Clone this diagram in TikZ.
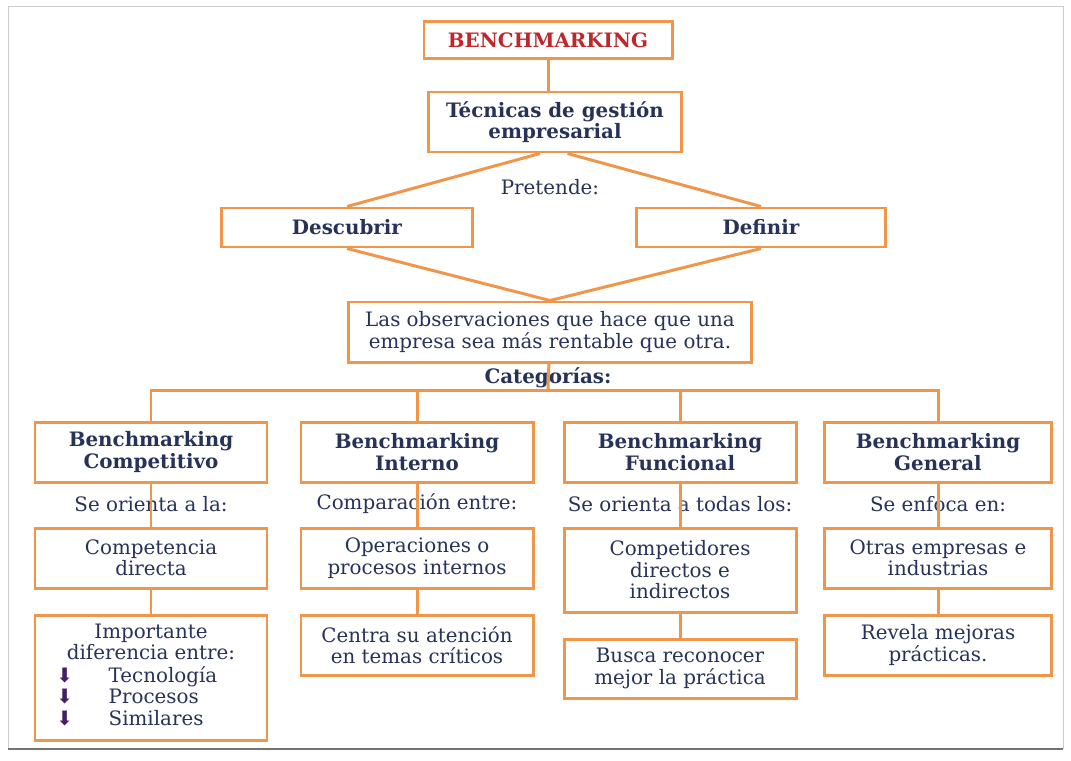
\documentclass[tikz,border=0pt]{standalone}
\usepackage{fontspec}
\setmainfont{DejaVu Serif}
\newfontfamily\flechas{DejaVu Sans}
\usepackage{tikz}
\usetikzlibrary{calc}
\definecolor{naranja}{RGB}{240,150,75}
\definecolor{azul}{RGB}{38,50,88}
\definecolor{rojo}{RGB}{190,40,45}
\definecolor{morado}{RGB}{70,30,100}
\def\bala{{\flechas\textcolor{morado}{⬇}}}
\tikzset{
  caja/.style={draw=naranja,line width=1.7pt,fill=white,text=azul,align=center,
    inner sep=2pt,font=\fontsize{11.3}{12.2}\selectfont},
  linea/.style={draw=naranja,line width=1.7pt},
  rotulo/.style={text=azul,inner sep=1pt,font=\fontsize{11.3}{12.2}\selectfont}
}

\begin{document}
\begin{tikzpicture}[x=0.2mm,y=-0.2mm]
  \useasboundingbox (0,0) rectangle (1071,760);
  \draw[black!20] (8,6) rectangle (1063,748);
  \draw[black!55,line width=1.5pt] (8,749) -- (1063,749);
    \node[caja,minimum width=49.6mm,minimum height=7.4mm,text=rojo] (bench) at (548,40){\textbf{BENCHMARKING}};
    \node[caja,minimum width=50.6mm,minimum height=12mm] (tecnicas) at (555,122){\textbf{Técnicas de gestión}\\\textbf{empresarial}};
    \node[rotulo] (pretende) at (550,187){Pretende:};
    \node[caja,minimum width=50.2mm,minimum height=7.8mm] (descubrir) at (347,227.5){\textbf{Descubrir}};
    \node[caja,minimum width=49.8mm,minimum height=7.8mm] (definir) at (761,227.5){\textbf{Definir}};
    \node[caja,minimum width=80.6mm,minimum height=12mm] (obs) at (550,332){Las observaciones que hace que una\\empresa sea más rentable que otra.};
    \node[rotulo] (categorias) at (548,378){\textbf{Categorías:}};
    \coordinate (barra) at (548,390);
  % categorias
    \node[caja,minimum width=46.4mm,minimum height=12mm] (comp) at (151,452){\textbf{Benchmarking}\\\textbf{Competitivo}};
    \node[caja,minimum width=46.4mm,minimum height=12mm] (inter) at (417,452){\textbf{Benchmarking}\\\textbf{Interno}};
    \node[caja,minimum width=46.4mm,minimum height=12mm] (func) at (680,452){\textbf{Benchmarking}\\\textbf{Funcional}};
    \node[caja,minimum width=45.4mm,minimum height=12mm] (gene) at (938,452){\textbf{Benchmarking}\\\textbf{General}};
     \node[rotulo] at (151,504){Se orienta a la:};
     \node[rotulo] at (417,504){Comparación entre:};
     \node[rotulo] at (680,504){Se orienta a todas los:};
     \node[rotulo] at (938,504){Se enfoca en:};
    \node[caja,minimum width=46.4mm,minimum height=12mm] (comp2) at (151,558){Competencia\\directa};
    \node[caja,minimum width=46.4mm,minimum height=12mm] (inter2) at (417,558){Operaciones o\\procesos internos};
    \node[caja,minimum width=46.4mm,minimum height=16.8mm] (func2) at (680,570){Competidores\\directos e\\indirectos};
    \node[caja,minimum width=45.4mm,minimum height=12mm] (gene2) at (938,558){Otras empresas e\\industrias};
    \node[caja,minimum width=46.4mm,minimum height=25mm] (comp3) at (151,677.5){%
      \begin{tabular}{@{}l@{\hspace{1.8em}}l@{}}
        \multicolumn{2}{c}{Importante}\\
        \multicolumn{2}{c}{diferencia entre:}\\
        \bala & Tecnología\\
        \bala & Procesos\\
        \bala & Similares
      \end{tabular}};
    \node[caja,minimum width=46.4mm,minimum height=12mm] (inter3) at (417,645){Centra su atención\\en temas críticos};
    \node[caja,minimum width=46.4mm,minimum height=11.8mm] (func3) at (680,668.5){Busca reconocer\\mejor la práctica};
    \node[caja,minimum width=45.4mm,minimum height=12mm] (gene3) at (938,645){Revela mejoras\\prácticas.};
  % conectores
    \draw[linea] (bench.south) -- (bench.south |- tecnicas.north);
    \draw[linea] ([xshift=-3mm]tecnicas.south) -- (descubrir.north);
    \draw[linea] ([xshift=2.5mm]tecnicas.south) -- (definir.north);
    \draw[linea] (descubrir.south) -- (obs.north);
    \draw[linea] (definir.south) -- (obs.north);
    \draw[linea] (obs) -- (barra);
    \draw[linea] (comp.north) -- (comp.north |- barra) -- (gene.north |- barra) -- (gene.north);
    \draw[linea] (inter.north) -- (inter.north |- barra);
    \draw[linea] (func.north) -- (func.north |- barra);
    \foreach \c in {comp,inter,func,gene}{
      \draw[linea] (\c) -- (\c2);
      \draw[linea] (\c2) -- (\c3);
    }
\end{tikzpicture}
\end{document}
